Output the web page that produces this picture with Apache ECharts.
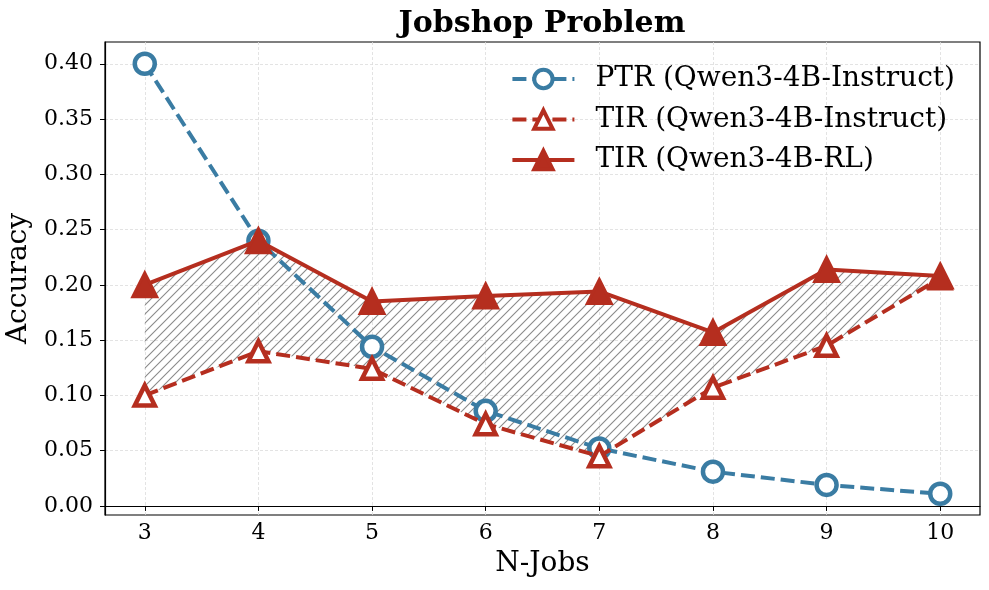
<!DOCTYPE html>
<html>
<head>
<meta charset="utf-8">
<script src="https://cdn.jsdelivr.net/npm/echarts@6/dist/echarts.min.js"></script>
<style>html,body{margin:0;padding:0;background:#fff;}#c{width:989px;height:590px;}</style>
</head>
<body>
<div id="c"></div>
<script>
const nJobs = [3, 4, 5, 6, 7, 8, 9, 10];
const ptrInstruct = [0.400, 0.240, 0.144, 0.086, 0.052, 0.031, 0.019, 0.011];
const tirInstruct = [0.100, 0.140, 0.124, 0.074, 0.045, 0.107, 0.145, 0.206];
const tirRL       = [0.200, 0.240, 0.185, 0.190, 0.194, 0.157, 0.214, 0.208];
const yTicks = [0, 0.05, 0.10, 0.15, 0.20, 0.25, 0.30, 0.35, 0.40];
const seriesNames = ['PTR (Qwen3-4B-Instruct)', 'TIR (Qwen3-4B-Instruct)', 'TIR (Qwen3-4B-RL)'];

const BLUE = '#3a7ca3';
const RED = '#b52e1f';
const FONT = '"DejaVu Serif", serif';

// hatch pattern
const hs = 9;
const hc = document.createElement('canvas');
hc.width = hs; hc.height = hs;
const hx = hc.getContext('2d');
hx.strokeStyle = '#8a8a8a';
hx.lineWidth = 1.1;
hx.beginPath();
hx.moveTo(-1, hs + 1); hx.lineTo(hs + 1, -1);
hx.moveTo(-1, 1); hx.lineTo(1, -1);
hx.moveTo(hs - 1, hs + 1); hx.lineTo(hs + 1, hs - 1);
hx.stroke();

const pair = arr => nJobs.map((x, i) => [x, arr[i]]);
const dash = [14, 6];
const LW = 4;

const chart = echarts.init(document.getElementById('c'), null, {renderer: 'canvas'});
chart.setOption({
  animation: false,
  backgroundColor: '#fff',
  title: {
    text: 'Jobshop Problem',
    left: 542, top: 9, textAlign: 'center', padding: 0,
    textStyle: {fontFamily: FONT, fontWeight: 'bold', fontSize: 30, color: '#000'}
  },
  legend: {
    data: seriesNames,
    orient: 'vertical',
    right: 34, top: 64, padding: 0,
    itemWidth: 62, itemHeight: 23, itemGap: 10.5,
    lineStyle: {width: LW},
    itemStyle: {borderWidth: 4},
    textStyle: {fontFamily: FONT, fontSize: 28, color: '#000', padding: [0, 0, 0, 16], lineHeight: 30}
  },
  grid: {left: 105, right: 9, top: 42, bottom: 75, outerBoundsMode: 'none', containLabel: false,
         show: true, borderColor: '#000', borderWidth: 1.2, backgroundColor: 'transparent'},
  xAxis: {
    type: 'value', min: 2.65, max: 10.35,
    name: 'N-Jobs', nameLocation: 'middle', nameGap: 35,
    nameTextStyle: {fontFamily: FONT, fontSize: 28, color: '#000'},
    axisLine: {lineStyle: {color: '#000', width: 1.2}},
    axisTick: {show: true, length: 5, lineStyle: {color: '#000', width: 1}, customValues: nJobs},
    axisLabel: {customValues: nJobs, fontFamily: FONT, fontSize: 22, color: '#000', margin: 7, formatter: v => String(v)},
    splitLine: {show: true, lineStyle: {color: '#dcdcdc', width: 0.8, type: [3, 2]}}
  },
  yAxis: {
    type: 'value', min: -0.0082, max: 0.4197,
    name: 'Accuracy', nameLocation: 'middle', nameGap: 61,
    nameTextStyle: {fontFamily: FONT, fontSize: 28, color: '#000'},
    axisLine: {show: true, lineStyle: {color: '#000', width: 1.2}},
    axisTick: {show: true, length: 5, lineStyle: {color: '#000', width: 1}, customValues: yTicks},
    axisLabel: {customValues: yTicks, fontFamily: FONT, fontSize: 22, color: '#000', margin: 12, formatter: v => v.toFixed(2)},
    splitLine: {show: true, lineStyle: {color: '#dcdcdc', width: 0.8, type: [3, 2]}}
  },
  series: [
    {
      type: 'custom', name: 'gap', silent: true, z: 1,
      data: [[nJobs[0], tirRL[0]]],
      renderItem: function (params, api) {
        const top = nJobs.map((x, i) => api.coord([x, tirRL[i]]));
        const bot = nJobs.map((x, i) => api.coord([x, tirInstruct[i]])).reverse();
        return {
          type: 'polygon',
          shape: {points: top.concat(bot)},
          style: {fill: {image: hc, repeat: 'repeat'}, stroke: null}
        };
      }
    },
    {
      type: 'line', name: seriesNames[0], z: 3,
      data: pair(ptrInstruct),
      symbol: 'circle', symbolSize: 20,
      lineStyle: {color: BLUE, width: LW, type: dash},
      itemStyle: {color: '#fff', borderColor: BLUE, borderWidth: 4.5}
    },
    {
      type: 'line', name: seriesNames[1], z: 4,
      data: pair(tirInstruct),
      symbol: 'triangle', symbolSize: 20,
      lineStyle: {color: RED, width: LW, type: dash},
      itemStyle: {color: '#fff', borderColor: RED, borderWidth: 4.5}
    },
    {
      type: 'line', name: seriesNames[2], z: 5,
      data: pair(tirRL),
      symbol: 'triangle', symbolSize: 24,
      lineStyle: {color: RED, width: LW},
      itemStyle: {color: RED, borderColor: RED, borderWidth: 3}
    }
  ]
});
</script>
</body>
</html>
